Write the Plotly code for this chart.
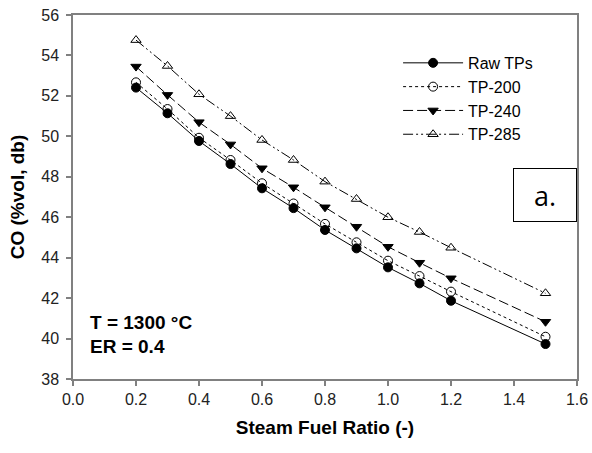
import plotly.graph_objects as go

sfr = [0.2, 0.3, 0.4, 0.5, 0.6, 0.7, 0.8, 0.9, 1.0, 1.1, 1.2, 1.5]
raw_tps = [52.41, 51.14, 49.77, 48.63, 47.43, 46.45, 45.37, 44.46, 43.52, 42.73, 41.87, 39.73]
tp_200 = [52.67, 51.35, 49.93, 48.83, 47.68, 46.68, 45.67, 44.76, 43.85, 43.09, 42.32, 40.09]
tp_240 = [53.45, 52.05, 50.70, 49.60, 48.42, 47.48, 46.49, 45.53, 44.54, 43.75, 42.98, 40.83]
tp_285 = [54.76, 53.48, 52.08, 51.00, 49.82, 48.83, 47.76, 46.90, 46.00, 45.27, 44.49, 42.24]

series = [
    ("Raw TPs", raw_tps, "solid", "circle"),
    ("TP-200", tp_200, "dot", "circle-open"),
    ("TP-240", tp_240, "10px,4px", "triangle-down"),
    ("TP-285", tp_285, "10px,3px,2px,3px,2px,3px", "triangle-up-open"),
]

FONT = "Liberation Sans, Arial"

fig = go.Figure()
for name, vals, dash, sym in series:
    fig.add_trace(go.Scatter(
        x=sfr, y=vals, name=name, mode="lines+markers",
        line=dict(color="black", width=1, dash=dash),
        marker=dict(symbol=sym, size=9, color="black",
                    line=dict(color="black", width=1)),
    ))

axis_common = dict(
    showgrid=False, zeroline=False, showline=True, linecolor="#808080",
    linewidth=1.5, mirror=True, ticks="outside", ticklen=5,
    tickcolor="#808080", tickwidth=1.5, automargin=False,
    tickfont=dict(family=FONT, size=16, color="#222"),
)
fig.update_xaxes(range=[0, 1.6], dtick=0.2, tickformat=".1f",
                 title=dict(text="<b>Steam Fuel Ratio (-)</b>", standoff=14,
                            font=dict(family=FONT, size=19, color="black")),
                 **axis_common)
fig.update_yaxes(range=[38, 56], dtick=2, ticklabelstandoff=4,
                 title=dict(text="<b>CO (%vol, db)</b>", standoff=12,
                            font=dict(family=FONT, size=19, color="black")),
                 **axis_common)

fig.add_annotation(xref="paper", yref="paper", x=0.03, y=0.154, xanchor="left", yanchor="middle",
                   text="<b>T = 1300 °C</b>", showarrow=False, align="left",
                   font=dict(family=FONT, size=19, color="black"))
fig.add_annotation(xref="paper", yref="paper", x=0.03, y=0.088, xanchor="left", yanchor="middle",
                   text="<b>ER = 0.4</b>", showarrow=False, align="left",
                   font=dict(family=FONT, size=19, color="black"))
fig.add_annotation(xref="paper", yref="paper", x=1.0, y=0.505, xanchor="right", yanchor="middle",
                   text="a.", showarrow=False, width=60, height=50,
                   bordercolor="black", borderwidth=1, bgcolor="white",
                   font=dict(family="Open Sans, Liberation Sans", size=27, color="black"))

fig.update_layout(
    width=592, height=453,
    margin=dict(l=73, r=15, t=15, b=74, autoexpand=False),
    plot_bgcolor="white", paper_bgcolor="white",
    legend=dict(x=0.645, y=0.915, xanchor="left", yanchor="top",
                bgcolor="rgba(0,0,0,0)", tracegroupgap=0, itemwidth=60,
                font=dict(family=FONT, size=16, color="black")),
)

fig.write_html("out.html")
